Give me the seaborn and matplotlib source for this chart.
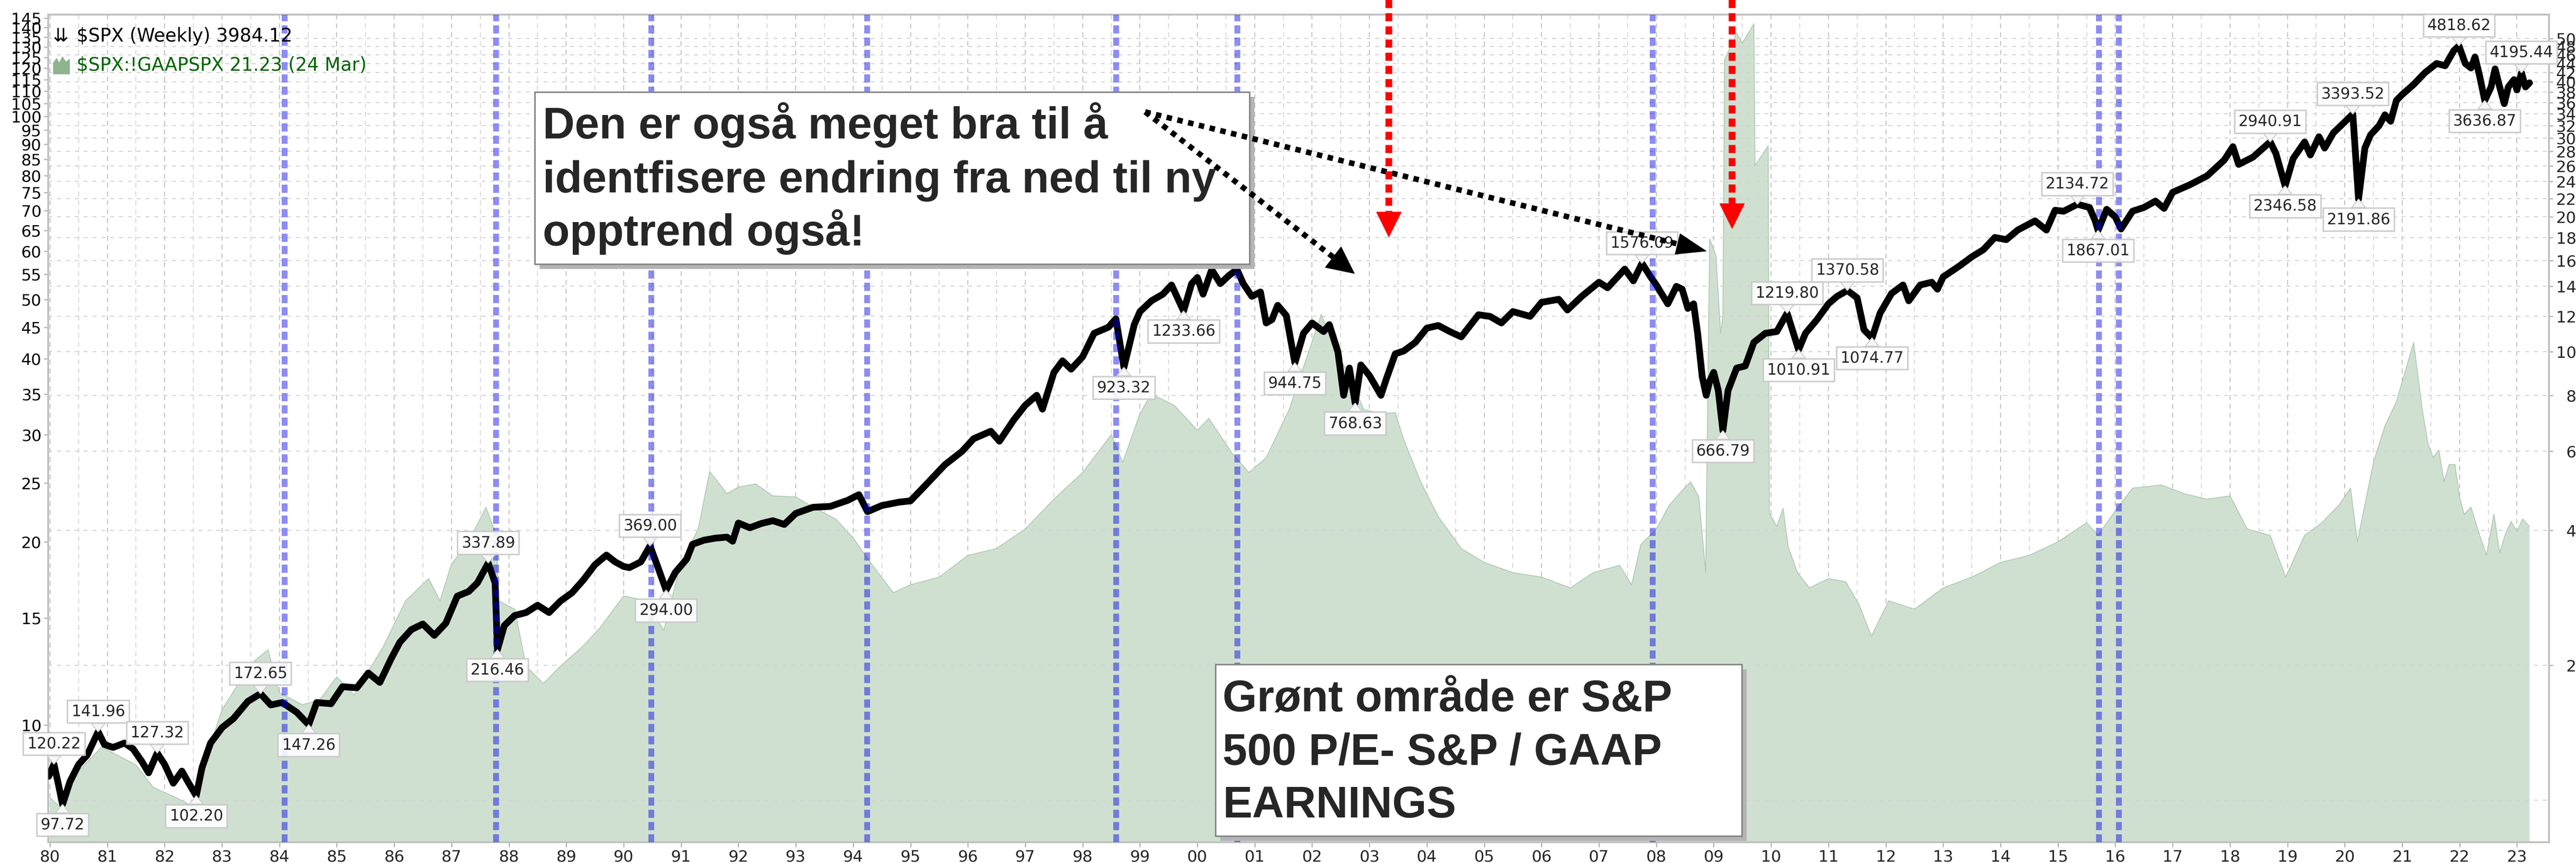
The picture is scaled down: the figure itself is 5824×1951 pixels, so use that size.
import matplotlib
matplotlib.use("Agg")
import matplotlib.pyplot as plt
import seaborn as sns
from matplotlib.patches import Rectangle, FancyArrowPatch, Polygon
from matplotlib.ticker import FixedLocator, NullLocator

# S&P 500 weekly close
spx_years = [1979.98, 1980.07, 1980.15, 1980.22, 1980.35, 1980.5, 1980.65, 1980.84, 1980.95,
             1981.1, 1981.3, 1981.45, 1981.6, 1981.72, 1981.87, 1982.0, 1982.15, 1982.3,
             1982.42, 1982.55, 1982.65, 1982.8, 1983.0, 1983.2, 1983.45, 1983.67, 1983.85,
             1984.05, 1984.3, 1984.51, 1984.65, 1984.9, 1985.1, 1985.35, 1985.55, 1985.75,
             1985.95, 1986.1, 1986.3, 1986.5, 1986.7, 1986.9, 1987.1, 1987.3, 1987.45,
             1987.64, 1987.76, 1987.80, 1987.92, 1988.1, 1988.3, 1988.5, 1988.7, 1988.9,
             1989.1, 1989.3, 1989.5, 1989.7, 1989.85, 1990.0, 1990.1, 1990.3, 1990.46,
             1990.6, 1990.74, 1990.9, 1991.1, 1991.2, 1991.4, 1991.6, 1991.8, 1991.9,
             1992.0, 1992.2, 1992.4, 1992.6, 1992.8, 1993.0, 1993.3, 1993.6, 1993.9,
             1994.1, 1994.25, 1994.5, 1994.8, 1995.0, 1995.3, 1995.6, 1995.9, 1996.1,
             1996.4, 1996.55, 1996.8, 1997.0, 1997.2, 1997.3, 1997.5, 1997.65, 1997.8,
             1998.0, 1998.2, 1998.45, 1998.58, 1998.72, 1998.9, 1999.0, 1999.2, 1999.4,
             1999.55, 1999.76, 1999.9, 2000.0, 2000.1, 2000.25, 2000.4, 2000.55, 2000.69,
             2000.8, 2000.95, 2001.1, 2001.2, 2001.3, 2001.4, 2001.55, 2001.70, 2001.85,
             2002.0, 2002.2, 2002.3, 2002.45, 2002.55, 2002.65, 2002.75, 2002.85, 2003.0,
             2003.2, 2003.3, 2003.45, 2003.6, 2003.8, 2004.0, 2004.2, 2004.4, 2004.6,
             2004.9, 2005.1, 2005.3, 2005.5, 2005.8, 2006.0, 2006.3, 2006.45, 2006.7,
             2007.0, 2007.15, 2007.45, 2007.6, 2007.75, 2007.9, 2008.0, 2008.2, 2008.35,
             2008.45, 2008.55, 2008.65, 2008.72, 2008.8, 2008.87, 2008.93, 2009.0, 2009.08,
             2009.16, 2009.25, 2009.4, 2009.55, 2009.7, 2009.9, 2010.1, 2010.28, 2010.4,
             2010.48, 2010.6, 2010.8, 2011.0, 2011.15, 2011.33, 2011.5, 2011.62, 2011.76,
             2011.9, 2012.1, 2012.3, 2012.4, 2012.6, 2012.8, 2012.9, 2013.0, 2013.3,
             2013.5, 2013.7, 2013.9, 2014.1, 2014.3, 2014.6, 2014.8, 2014.95, 2015.1,
             2015.34, 2015.55, 2015.65, 2015.70, 2015.85, 2016.0, 2016.1, 2016.3, 2016.5,
             2016.7, 2016.85, 2017.0, 2017.3, 2017.6, 2017.9, 2018.05, 2018.15, 2018.4,
             2018.70, 2018.8, 2018.96, 2019.1, 2019.3, 2019.4, 2019.55, 2019.65, 2019.8,
             2020.0, 2020.14, 2020.24, 2020.35, 2020.45, 2020.6, 2020.7, 2020.8, 2020.9,
             2021.0, 2021.2, 2021.4, 2021.6, 2021.75, 2021.9, 2021.99, 2022.1, 2022.2,
             2022.27, 2022.35, 2022.44, 2022.55, 2022.62, 2022.7, 2022.78, 2022.85, 2022.95,
             2023.0, 2023.08, 2023.15, 2023.22]
spx_close = [113, 120.22, 108, 97.72, 110, 120, 126, 141.96, 133,
             131, 134, 130, 122, 115, 127.32, 120, 109, 116,
             109, 102.20, 118, 134, 145, 152, 166, 172.65, 163,
             165, 157, 147.26, 165, 164, 179, 178, 192, 183,
             207, 225, 240, 247, 233, 248, 285, 292, 305,
             337.89, 305, 216.46, 245, 258, 262, 272, 262, 278,
             290, 310, 335, 352, 340, 332, 330, 340, 369.00,
             330, 294.00, 322, 345, 372, 380, 384, 386, 378,
             415, 405, 414, 420, 412, 436, 450, 452, 466,
             480, 440, 454, 462, 465, 510, 560, 600, 640,
             665, 632, 705, 760, 800, 745, 900, 955, 915,
             975, 1100, 1135, 1185, 923.32, 1150, 1230, 1300, 1345,
             1410, 1233.66, 1420, 1465, 1345, 1525, 1420, 1480, 1527,
             1420, 1330, 1360, 1160, 1180, 1270, 1205, 944.75, 1100,
             1160, 1110, 1150, 1000, 800, 920, 768.63, 935, 885,
             800, 875, 990, 1005, 1050, 1130, 1145, 1110, 1080,
             1210, 1200, 1160, 1230, 1200, 1290, 1310, 1240, 1330,
             1430, 1390, 1530, 1440, 1576.09, 1470, 1410, 1280, 1400,
             1380, 1250, 1280, 1100, 880, 800, 860, 900, 820,
             666.79, 820, 920, 930, 1050, 1100, 1110, 1219.80, 1090,
             1010.91, 1100, 1180, 1280, 1330, 1370.58, 1320, 1120, 1074.77,
             1220, 1350, 1410, 1300, 1410, 1430, 1380, 1470, 1560,
             1630, 1690, 1800, 1780, 1870, 1960, 1870, 2070, 2060,
             2134.72, 2100, 1960, 1867.01, 2080, 2000, 1880, 2060, 2100,
             2170, 2090, 2270, 2360, 2470, 2680, 2870, 2620, 2720,
             2940.91, 2770, 2346.58, 2700, 2940, 2750, 3020, 2850, 3080,
             3260, 3393.52, 2191.86, 2850, 3050, 3200, 3380, 3270, 3640,
             3750, 3950, 4200, 4400, 4350, 4700, 4818.62, 4400, 4300,
             4550, 4130, 3636.87, 3900, 4280, 3900, 3580, 3900, 4050,
             3840, 4195.44, 3900, 3984.12]

# $SPX:!GAAPSPX  (P/E on GAAP earnings)
pe_years = [1980.0, 1980.2, 1980.5, 1980.9, 1981.2, 1981.5, 1981.8, 1982.2, 1982.55, 1982.8,
            1983.0, 1983.5, 1983.8, 1984.0, 1984.4, 1984.7, 1985.0, 1985.3, 1985.8, 1986.2,
            1986.6, 1986.8, 1987.0, 1987.3, 1987.6, 1987.78, 1987.82, 1988.1, 1988.3, 1988.6,
            1988.9, 1989.3, 1989.6, 1990.0, 1990.4, 1990.7, 1991.0, 1991.3, 1991.5, 1991.8,
            1992.0, 1992.3, 1992.6, 1993.0, 1993.3, 1993.7, 1994.0, 1994.3, 1994.7, 1995.0,
            1995.5, 1996.0, 1996.5, 1997.0, 1997.5, 1998.0, 1998.5, 1998.7, 1999.0, 1999.2,
            1999.6, 2000.0, 2000.2, 2000.6, 2000.9, 2001.2, 2001.6, 2001.9, 2002.16, 2002.4,
            2002.6, 2002.9, 2003.2, 2003.45, 2003.6, 2003.9, 2004.2, 2004.6, 2005.0, 2005.5,
            2006.0, 2006.5, 2006.9, 2007.36, 2007.57, 2007.73, 2008.0, 2008.23, 2008.47, 2008.6,
            2008.74, 2008.86, 2008.93, 2009.04, 2009.12, 2009.16, 2009.19, 2009.4, 2009.5, 2009.7,
            2009.72, 2009.95, 2009.97, 2010.1, 2010.21, 2010.3, 2010.46, 2010.67, 2011.0, 2011.3,
            2011.53, 2011.75, 2012.05, 2012.5, 2013.0, 2013.5, 2014.0, 2014.5, 2015.0, 2015.5,
            2015.7, 2016.0, 2016.3, 2016.8, 2017.2, 2017.6, 2018.0, 2018.3, 2018.7, 2018.97,
            2019.3, 2019.6, 2019.9, 2020.1, 2020.22, 2020.5, 2020.7, 2020.9, 2021.05, 2021.2,
            2021.35, 2021.45, 2021.54, 2021.64, 2021.73, 2021.82, 2021.92, 2022.0, 2022.08, 2022.2,
            2022.33, 2022.47, 2022.6, 2022.7, 2022.8, 2022.9, 2023.0, 2023.1, 2023.22]
pe_values = [7.6, 7.3, 8.4, 9.2, 8.9, 8.6, 7.9, 7.6, 7.3, 9.3,
             10.6, 12.6, 13.3, 11.3, 10.8, 11.0, 12.0, 11.2, 13.4, 16.0,
             17.4, 16.0, 18.4, 20.0, 22.8, 20.5, 16.0, 15.5, 12.5, 11.7,
             12.5, 13.5, 14.5, 16.3, 16.0, 14.3, 18.5, 21.0, 26.1, 24.0,
             24.6, 24.9, 23.8, 23.7, 22.8, 21.8, 20.3, 18.5, 16.5, 17.0,
             17.5, 19.0, 19.5, 21.0, 23.5, 26.0, 30.0, 27.0, 32.5, 35.0,
             33.5, 30.5, 31.9, 28.0, 26.0, 27.5, 33.0, 40.0, 47.3, 41.0,
             38.4, 33.0, 32.5, 32.6, 29.4, 25.0, 22.0, 19.5, 18.5, 17.8,
             17.5, 16.8, 17.8, 18.3, 17.0, 19.8, 21.0, 23.0, 24.4, 25.1,
             23.7, 17.8, 62.9, 59.0, 44.0, 47.0, 124, 137, 132, 142,
             83, 89.5, 22.3, 21.2, 22.7, 19.6, 17.8, 16.8, 17.4, 17.2,
             15.8, 14.0, 16.0, 15.5, 16.8, 17.5, 18.5, 19.0, 20.0, 21.5,
             20.5, 22.5, 24.5, 24.8, 24.0, 23.5, 23.8, 21.0, 20.5, 17.5,
             20.5, 21.5, 23.0, 24.5, 20.0, 27.0, 31.0, 34.0, 38.0, 42.5,
             33.0, 29.0, 27.5, 28.3, 25.1, 26.8, 26.8, 23.7, 22.2, 22.8,
             20.8, 19.0, 22.2, 19.2, 20.6, 21.6, 20.8, 21.8, 21.2]

# labelled highs (+1, box above) and lows (-1, box below)
peak_years = [1980.07, 1980.22, 1980.84, 1981.87, 1982.55, 1983.67, 1984.51, 1987.64, 1987.80,
              1990.46, 1990.74, 1998.72, 1999.76, 2001.70, 2002.75, 2007.75, 2009.16, 2010.28,
              2010.48, 2011.33, 2011.76, 2015.34, 2015.70, 2018.70, 2018.96, 2020.14, 2020.24,
              2021.99, 2022.44, 2023.08]
peak_values = [120.22, 97.72, 141.96, 127.32, 102.20, 172.65, 147.26, 337.89, 216.46,
               369.00, 294.00, 923.32, 1233.66, 944.75, 768.63, 1576.09, 666.79, 1219.80,
               1010.91, 1370.58, 1074.77, 2134.72, 1867.01, 2940.91, 2346.58, 3393.52, 2191.86,
               4818.62, 3636.87, 4195.44]
peak_side = [1, -1, 1, 1, -1, 1, -1, 1, -1,
             1, -1, -1, -1, -1, -1, 1, -1, 1,
             -1, 1, -1, 1, -1, 1, -1, 1, -1,
             1, -1, 1]

blue_years = [1984.09, 1987.77, 1990.48, 1994.24, 1998.58, 2000.69, 2007.93, 2015.71, 2016.06]

year_ticks = list(range(1980, 2024))
year_labels = ["%02d" % (y % 100) for y in year_ticks]
pe_ticks = list(range(10, 150, 5))
price_ticks = list(range(200, 5200, 200))

box1_lines = ["Den er også meget bra til å", "identfisere endring fra ned til ny", "opptrend også!"]
box2_lines = ["Grønt område er S&P", "500 P/E- S&P / GAAP", "EARNINGS"]

W, H = 5824, 1951


def fx(px):
    return px / W


def fy(py):
    return 1 - py / H


sns.set_theme(style="white")
plt.rcParams["font.family"] = ["DejaVu Sans"]

fig = plt.figure(figsize=(W / 100, H / 100), dpi=100)
fig.patch.set_facecolor("white")
ax = fig.add_axes([fx(109), fy(1904), (5763 - 109) / W, (1904 - 33) / H])

# green P/E area (left axis)
ax.set_yscale("log")
ax.fill_between(pe_years, 1, pe_values, color="#cfe0d1", lw=0, zorder=1)
sns.lineplot(x=pe_years, y=pe_values, ax=ax, color="#b2ccb4", linewidth=1.5,
             estimator=None, sort=False, legend=False, zorder=1.2)
ax.set_xlim(1979.97, 2023.56)
ax.set_ylim(6.42, 147)
ax.yaxis.set_major_locator(FixedLocator(pe_ticks))
ax.yaxis.set_minor_locator(NullLocator())
ax.set_yticklabels([str(v) for v in pe_ticks])
ax.set_xticks(year_ticks)
ax.set_xticks([y + 0.5 for y in year_ticks[:-1]], minor=True)
ax.set_xticklabels(year_labels)
ax.tick_params(axis="y", which="major", left=True, length=7, width=2, color="#b8b8b8",
               labelsize=26, pad=4, labelcolor="black")
ax.tick_params(axis="x", which="major", bottom=True, length=8, width=2, color="#b8b8b8",
               labelsize=26, pad=4)
ax.tick_params(axis="x", which="minor", bottom=False)
ax.grid(axis="x", which="major", color="#c2c2c2", lw=1.6, ls=(0, (5, 4)))
ax.grid(axis="x", which="minor", color="#dadada", lw=1.6, ls=(0, (5, 4)))
ax.grid(axis="y", visible=False)
for s in ax.spines.values():
    s.set_color("#c0c0c0")
    s.set_linewidth(3)
ax.set_xlabel("")
ax.set_ylabel("")

# price (right axis)
ax2 = ax.twinx()
ax2.set_yscale("log")
ax2.set_ylim(80.5, 5657)
ax2.yaxis.set_major_locator(FixedLocator(price_ticks))
ax2.yaxis.set_minor_locator(FixedLocator([100]))
ax2.set_yticklabels([str(v) for v in price_ticks], ha="right")
ax2.tick_params(axis="y", which="major", right=True, length=6.5, width=2, color="#b8b8b8",
                labelsize=26, pad=71)
ax2.tick_params(axis="y", which="minor", right=False, labelright=False)
ax2.grid(axis="y", which="both", color="#d2d2d2", lw=1.6, ls=(0, (4, 5)))
for s in ax2.spines.values():
    s.set_visible(False)

sns.lineplot(x=spx_years, y=spx_close, ax=ax2, color="black", linewidth=11,
             estimator=None, sort=False, legend=False, zorder=3)
ax2.set_xlim(1979.97, 2023.56)
ax2.set_xlabel("")
ax2.set_ylabel("")

for yr in blue_years:
    ax2.axvline(yr, color="#0000e6", alpha=0.45, lw=9.5, ls=(0, (1.4, 0.7)), zorder=4)

for yr, val, side in zip(peak_years, peak_values, peak_side):
    ax2.annotate("%.2f" % val, xy=(yr, val), xytext=(0, 33 * side),
                 textcoords="offset points", ha="center", va="center", fontsize=25,
                 bbox=dict(boxstyle="square,pad=0.25", fc="white", ec="#c8c8c8", lw=2.5, alpha=0.9),
                 arrowprops=dict(arrowstyle="wedge,tail_width=0.9", fc="#f6f6f6", ec="#cccccc",
                                 lw=1.5, shrinkA=0, shrinkB=0),
                 zorder=7)

# legend lines top-left
fig.text(fx(120), fy(82), "⇊", fontsize=30, va="center", color="black")
fig.text(fx(173), fy(82), "$SPX (Weekly) 3984.12", fontsize=30, va="center",
         color="black", parse_math=False)
fig.add_artist(Polygon([(fx(120), fy(168)), (fx(120), fy(142)), (fx(128), fy(131)),
                        (fx(134), fy(141)), (fx(141), fy(127)), (fx(149), fy(139)),
                        (fx(158), fy(133)), (fx(158), fy(168))],
                       closed=True, transform=fig.transFigure, fc="#8fb58f", ec="none"))
fig.text(fx(173), fy(148), "$SPX:!GAAPSPX 21.23 (24 Mar)", fontsize=30, va="center",
         color="#006400", parse_math=False)


# text boxes
def text_box(x0, y0, x1, y1, lines, tx, baselines):
    fig.add_artist(Rectangle((fx(x0 + 11), fy(y1 + 11)), (x1 - x0) / W, (y1 - y0) / H,
                             transform=fig.transFigure, fc="#b4b4b4", ec="none", zorder=8))
    fig.add_artist(Rectangle((fx(x0), fy(y1)), (x1 - x0) / W, (y1 - y0) / H,
                             transform=fig.transFigure, fc="white", ec="#858585", lw=2.5, zorder=9))
    for line, b in zip(lines, baselines):
        fig.text(fx(tx), fy(b), line, fontsize=72, fontweight="bold", family="Liberation Sans",
                 va="baseline", ha="left", zorder=10)


text_box(1209, 208, 2825, 597, box1_lines, 1227, [313, 435, 555])
text_box(2748, 1502, 3938, 1890, box2_lines, 2764, [1607, 1728, 1848])


# dotted arrow: dotted shaft plus a solid head
def dotted_arrow(p0, p1, color, lw, dashes, head_len_px, head_w_pt):
    (x0, y0), (x1, y1) = p0, p1
    dx, dy = x1 - x0, y1 - y0
    d = (dx * dx + dy * dy) ** 0.5
    bx, by = x1 - dx / d * head_len_px, y1 - dy / d * head_len_px
    fig.add_artist(FancyArrowPatch((fx(x0), fy(y0)), (fx(bx), fy(by)), transform=fig.transFigure,
                                   arrowstyle="-", lw=lw, ls=(0, dashes), color=color,
                                   capstyle="butt", shrinkA=0, shrinkB=0, zorder=11))
    fig.add_artist(FancyArrowPatch((fx(bx - dx / d * 2), fy(by - dy / d * 2)), (fx(x1), fy(y1)),
                                   transform=fig.transFigure,
                                   arrowstyle="-|>,head_length=%.2f,head_width=%.2f"
                                   % (head_len_px * 0.072, head_w_pt / 10),
                                   mutation_scale=10, lw=1, color=color,
                                   shrinkA=0, shrinkB=0, zorder=11))


dotted_arrow((2589, 253), (3063, 619), "black", 9, (1, 1.0), 60, 21)
dotted_arrow((2589, 253), (3859, 568), "black", 9, (1, 1.0), 66, 17)
dotted_arrow((3140, 0), (3140, 537), "#ff0000", 11, (1.2, 0.75), 56, 20)
dotted_arrow((3916, 0), (3916, 518), "#ff0000", 11, (1.2, 0.75), 56, 20)

fig.savefig("out.png", dpi=100)
plt.close(fig)
